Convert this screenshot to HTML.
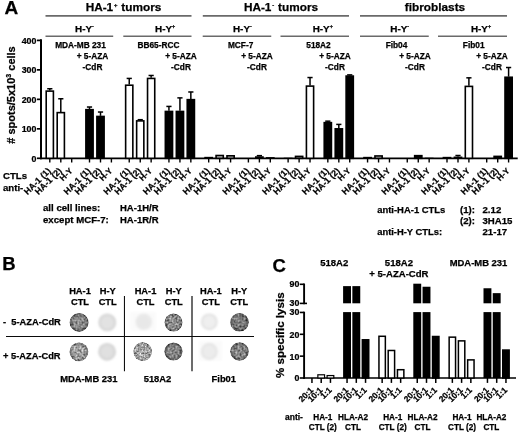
<!DOCTYPE html>
<html lang="en"><head><meta charset="utf-8"><title>Figure</title>
<style>html,body{margin:0;padding:0;background:#fff}svg{display:block}text{font-family:'Liberation Sans', sans-serif;font-weight:bold;fill:#000;stroke:#000;stroke-width:0.25px}</style>
</head><body>
<svg width="520" height="432" viewBox="0 0 520 432">
<defs>
<filter id="t1" x="-10%" y="-10%" width="120%" height="120%" color-interpolation-filters="sRGB"><feTurbulence type="fractalNoise" baseFrequency="0.5" numOctaves="2" seed="3" result="n"/><feColorMatrix in="n" type="matrix" values="1.6 0 0 0 -0.3  1.6 0 0 0 -0.3  1.6 0 0 0 -0.3  0 0 0 0 1" result="g"/><feComposite in="SourceGraphic" in2="g" operator="arithmetic" k1="0" k2="1" k3="0.45" k4="-0.225" result="m"/><feComposite in="m" in2="SourceGraphic" operator="in" result="c"/><feGaussianBlur in="c" stdDeviation="0.45"/></filter>
<filter id="t2" x="-10%" y="-10%" width="120%" height="120%" color-interpolation-filters="sRGB"><feTurbulence type="fractalNoise" baseFrequency="0.5" numOctaves="2" seed="7" result="n"/><feColorMatrix in="n" type="matrix" values="1.6 0 0 0 -0.3  1.6 0 0 0 -0.3  1.6 0 0 0 -0.3  0 0 0 0 1" result="g"/><feComposite in="SourceGraphic" in2="g" operator="arithmetic" k1="0" k2="1" k3="0.6" k4="-0.3" result="m"/><feComposite in="m" in2="SourceGraphic" operator="in" result="c"/><feGaussianBlur in="c" stdDeviation="0.45"/></filter>
<filter id="t3" x="-10%" y="-10%" width="120%" height="120%" color-interpolation-filters="sRGB"><feTurbulence type="fractalNoise" baseFrequency="0.55" numOctaves="2" seed="11" result="n"/><feColorMatrix in="n" type="matrix" values="1.6 0 0 0 -0.3  1.6 0 0 0 -0.3  1.6 0 0 0 -0.3  0 0 0 0 1" result="g"/><feComposite in="SourceGraphic" in2="g" operator="arithmetic" k1="0" k2="1" k3="0.62" k4="-0.31" result="m"/><feComposite in="m" in2="SourceGraphic" operator="in" result="c"/><feGaussianBlur in="c" stdDeviation="0.45"/></filter>
<filter id="t4" x="-10%" y="-10%" width="120%" height="120%" color-interpolation-filters="sRGB"><feTurbulence type="fractalNoise" baseFrequency="0.5" numOctaves="2" seed="17" result="n"/><feColorMatrix in="n" type="matrix" values="1.6 0 0 0 -0.3  1.6 0 0 0 -0.3  1.6 0 0 0 -0.3  0 0 0 0 1" result="g"/><feComposite in="SourceGraphic" in2="g" operator="arithmetic" k1="0" k2="1" k3="0.5" k4="-0.25" result="m"/><feComposite in="m" in2="SourceGraphic" operator="in" result="c"/><feGaussianBlur in="c" stdDeviation="0.45"/></filter>
<filter id="bl" x="-20%" y="-20%" width="140%" height="140%"><feGaussianBlur stdDeviation="0.9"/></filter>
<filter id="bl2" x="-20%" y="-20%" width="140%" height="140%"><feGaussianBlur stdDeviation="1.0"/></filter>
</defs>
<rect width="520" height="432" fill="#fff"/>
<text x="4.5" y="14.3" font-size="19" text-anchor="start" >A</text>
<line x1="45.5" y1="15.9" x2="191.5" y2="15.9" stroke="#6a6a6a" stroke-width="1.6"/>
<line x1="202.8" y1="15.9" x2="349" y2="15.9" stroke="#6a6a6a" stroke-width="1.6"/>
<line x1="360" y1="15.9" x2="507" y2="15.9" stroke="#6a6a6a" stroke-width="1.6"/>
<text x="123.5" y="11" font-size="11.8" text-anchor="middle" >HA-1<tspan font-size="5.8" dy="-4.2" dx="0.9">+</tspan><tspan dy="4.2" dx="0.6"> tumors</tspan></text>
<text x="281" y="11" font-size="11.8" text-anchor="middle" >HA-1<tspan font-size="5.8" dy="-4.2" dx="0.9">-</tspan><tspan dy="4.2" dx="0.6"> tumors</tspan></text>
<text x="435" y="11" font-size="11.8" text-anchor="middle" >fibroblasts</text>
<line x1="45.5" y1="36.3" x2="113.2" y2="36.3" stroke="#6a6a6a" stroke-width="1.6"/>
<line x1="123.3" y1="36.3" x2="191.5" y2="36.3" stroke="#6a6a6a" stroke-width="1.6"/>
<line x1="202.7" y1="36.3" x2="271.25" y2="36.3" stroke="#6a6a6a" stroke-width="1.6"/>
<line x1="280.5" y1="36.3" x2="349" y2="36.3" stroke="#6a6a6a" stroke-width="1.6"/>
<line x1="360" y1="36.3" x2="428.75" y2="36.3" stroke="#6a6a6a" stroke-width="1.6"/>
<line x1="438" y1="36.3" x2="507" y2="36.3" stroke="#6a6a6a" stroke-width="1.6"/>
<text x="84.5" y="31.8" font-size="9.9" text-anchor="middle" >H-Y<tspan font-size="5.4" dy="-3.6">-</tspan></text>
<text x="165.1" y="31.8" font-size="9.9" text-anchor="middle" >H-Y<tspan font-size="5.4" dy="-3.6">+</tspan></text>
<text x="242.4" y="31.8" font-size="9.9" text-anchor="middle" >H-Y<tspan font-size="5.4" dy="-3.6">-</tspan></text>
<text x="322.8" y="31.8" font-size="9.9" text-anchor="middle" >H-Y<tspan font-size="5.4" dy="-3.6">+</tspan></text>
<text x="399.7" y="31.8" font-size="9.9" text-anchor="middle" >H-Y<tspan font-size="5.4" dy="-3.6">-</tspan></text>
<text x="481" y="31.8" font-size="9.9" text-anchor="middle" >H-Y<tspan font-size="5.4" dy="-3.6">+</tspan></text>
<text x="80.5" y="48.0" font-size="8.3" text-anchor="middle" >MDA-MB 231</text>
<text x="158.5" y="48.0" font-size="8.3" text-anchor="middle" >BB65-RCC</text>
<text x="240.6" y="48.0" font-size="8.3" text-anchor="middle" >MCF-7</text>
<text x="318.5" y="48.0" font-size="8.3" text-anchor="middle" >518A2</text>
<text x="396.5" y="48.0" font-size="8.3" text-anchor="middle" >Fib04</text>
<text x="473.7" y="48.0" font-size="8.3" text-anchor="middle" >Fib01</text>
<text x="92.5" y="59.3" font-size="8.3" text-anchor="middle" >+ 5-AZA</text>
<text x="92.5" y="69.8" font-size="8.3" text-anchor="middle" >-CdR</text>
<text x="181" y="59.3" font-size="8.3" text-anchor="middle" >+ 5-AZA</text>
<text x="181" y="69.8" font-size="8.3" text-anchor="middle" >-CdR</text>
<text x="257" y="59.3" font-size="8.3" text-anchor="middle" >+ 5-AZA</text>
<text x="257" y="69.8" font-size="8.3" text-anchor="middle" >-CdR</text>
<text x="335" y="59.3" font-size="8.3" text-anchor="middle" >+ 5-AZA</text>
<text x="335" y="69.8" font-size="8.3" text-anchor="middle" >-CdR</text>
<text x="415" y="59.3" font-size="8.3" text-anchor="middle" >+ 5-AZA</text>
<text x="415" y="69.8" font-size="8.3" text-anchor="middle" >-CdR</text>
<text x="492" y="59.3" font-size="8.3" text-anchor="middle" >+ 5-AZA</text>
<text x="492" y="69.8" font-size="8.3" text-anchor="middle" >-CdR</text>
<line x1="41.0" y1="39.35" x2="41.0" y2="159.15" stroke="#000" stroke-width="2.0"/>
<line x1="40.15" y1="158.3" x2="517.7" y2="158.3" stroke="#000" stroke-width="1.7"/>
<line x1="36.9" y1="158.3" x2="41.0" y2="158.3" stroke="#000" stroke-width="1.7"/>
<text transform="translate(36.4,161.65) scale(0.94,1)" font-size="9.4" text-anchor="end">0</text>
<line x1="36.9" y1="128.82500000000002" x2="41.0" y2="128.82500000000002" stroke="#000" stroke-width="1.7"/>
<text transform="translate(36.4,132.175) scale(0.94,1)" font-size="9.4" text-anchor="end">100</text>
<line x1="36.9" y1="99.35000000000001" x2="41.0" y2="99.35000000000001" stroke="#000" stroke-width="1.7"/>
<text transform="translate(36.4,102.7) scale(0.94,1)" font-size="9.4" text-anchor="end">200</text>
<line x1="36.9" y1="69.87500000000001" x2="41.0" y2="69.87500000000001" stroke="#000" stroke-width="1.7"/>
<text transform="translate(36.4,73.22500000000001) scale(0.94,1)" font-size="9.4" text-anchor="end">300</text>
<line x1="36.9" y1="40.400000000000006" x2="41.0" y2="40.400000000000006" stroke="#000" stroke-width="1.7"/>
<text transform="translate(36.4,43.75000000000001) scale(0.94,1)" font-size="9.4" text-anchor="end">400</text>
<text transform="translate(14.9,95) rotate(-90)" font-size="11.0" text-anchor="middle"># spots/5x10<tspan font-size="7" dy="-4">3</tspan><tspan dy="4"> cells</tspan></text>
<line x1="49.8" y1="158.3" x2="49.8" y2="162.5" stroke="#000" stroke-width="1.4"/>
<line x1="49.8" y1="90.50750000000001" x2="49.8" y2="88.739" stroke="#000" stroke-width="1.5"/>
<line x1="47.199999999999996" y1="88.739" x2="52.4" y2="88.739" stroke="#000" stroke-width="1.5"/>
<rect x="46.20" y="91.11" width="7.20" height="67.19" fill="#fff" stroke="#000" stroke-width="1.6"/>
<text transform="translate(51.30,171.40) rotate(-45)" font-size="8.8" text-anchor="end">HA-1 (1)</text>
<line x1="60.8" y1="158.3" x2="60.8" y2="162.5" stroke="#000" stroke-width="1.4"/>
<line x1="60.8" y1="112.02425000000001" x2="60.8" y2="98.76050000000001" stroke="#000" stroke-width="1.5"/>
<line x1="58.199999999999996" y1="98.76050000000001" x2="63.4" y2="98.76050000000001" stroke="#000" stroke-width="1.5"/>
<rect x="57.20" y="112.62" width="7.20" height="45.68" fill="#fff" stroke="#000" stroke-width="1.6"/>
<text transform="translate(62.30,171.40) rotate(-45)" font-size="8.8" text-anchor="end">HA-1 (2)</text>
<line x1="71.69999999999999" y1="158.3" x2="71.69999999999999" y2="162.5" stroke="#000" stroke-width="1.4"/>
<text transform="translate(73.20,171.40) rotate(-45)" font-size="8.3" text-anchor="end">H-Y</text>
<line x1="89.5" y1="158.3" x2="89.5" y2="162.5" stroke="#000" stroke-width="1.4"/>
<line x1="89.5" y1="109.07675" x2="89.5" y2="107.01350000000001" stroke="#000" stroke-width="1.5"/>
<line x1="86.9" y1="107.01350000000001" x2="92.1" y2="107.01350000000001" stroke="#000" stroke-width="1.5"/>
<rect x="85.90" y="109.68" width="7.20" height="48.62" fill="#000" stroke="#000" stroke-width="1.6"/>
<text transform="translate(91.00,171.40) rotate(-45)" font-size="8.8" text-anchor="end">HA-1 (1)</text>
<line x1="100.5" y1="158.3" x2="100.5" y2="162.5" stroke="#000" stroke-width="1.4"/>
<line x1="100.5" y1="115.85600000000001" x2="100.5" y2="112.02425000000001" stroke="#000" stroke-width="1.5"/>
<line x1="97.9" y1="112.02425000000001" x2="103.1" y2="112.02425000000001" stroke="#000" stroke-width="1.5"/>
<rect x="96.90" y="116.46" width="7.20" height="41.84" fill="#000" stroke="#000" stroke-width="1.6"/>
<text transform="translate(102.00,171.40) rotate(-45)" font-size="8.8" text-anchor="end">HA-1 (2)</text>
<line x1="111.4" y1="158.3" x2="111.4" y2="162.5" stroke="#000" stroke-width="1.4"/>
<text transform="translate(112.90,171.40) rotate(-45)" font-size="8.3" text-anchor="end">H-Y</text>
<line x1="129.24" y1="158.3" x2="129.24" y2="162.5" stroke="#000" stroke-width="1.4"/>
<line x1="129.24" y1="84.61250000000001" x2="129.24" y2="78.42275000000001" stroke="#000" stroke-width="1.5"/>
<line x1="126.64000000000001" y1="78.42275000000001" x2="131.84" y2="78.42275000000001" stroke="#000" stroke-width="1.5"/>
<rect x="125.64" y="85.21" width="7.20" height="73.09" fill="#fff" stroke="#000" stroke-width="1.6"/>
<text transform="translate(130.74,171.40) rotate(-45)" font-size="8.8" text-anchor="end">HA-1 (1)</text>
<line x1="140.24" y1="158.3" x2="140.24" y2="162.5" stroke="#000" stroke-width="1.4"/>
<line x1="140.24" y1="120.27725000000001" x2="140.24" y2="119.68775000000001" stroke="#000" stroke-width="1.5"/>
<line x1="137.64000000000001" y1="119.68775000000001" x2="142.84" y2="119.68775000000001" stroke="#000" stroke-width="1.5"/>
<rect x="136.64" y="120.88" width="7.20" height="37.42" fill="#fff" stroke="#000" stroke-width="1.6"/>
<text transform="translate(141.74,171.40) rotate(-45)" font-size="8.8" text-anchor="end">HA-1 (2)</text>
<line x1="151.14000000000001" y1="158.3" x2="151.14000000000001" y2="162.5" stroke="#000" stroke-width="1.4"/>
<line x1="151.14000000000001" y1="77.83325" x2="151.14000000000001" y2="75.47525" stroke="#000" stroke-width="1.5"/>
<line x1="148.54000000000002" y1="75.47525" x2="153.74" y2="75.47525" stroke="#000" stroke-width="1.5"/>
<rect x="147.54" y="78.43" width="7.20" height="79.87" fill="#fff" stroke="#000" stroke-width="1.6"/>
<text transform="translate(152.64,171.40) rotate(-45)" font-size="8.3" text-anchor="end">H-Y</text>
<line x1="168.94" y1="158.3" x2="168.94" y2="162.5" stroke="#000" stroke-width="1.4"/>
<line x1="168.94" y1="110.84525000000001" x2="168.94" y2="106.424" stroke="#000" stroke-width="1.5"/>
<line x1="166.34" y1="106.424" x2="171.54" y2="106.424" stroke="#000" stroke-width="1.5"/>
<rect x="165.34" y="111.45" width="7.20" height="46.85" fill="#000" stroke="#000" stroke-width="1.6"/>
<text transform="translate(170.44,171.40) rotate(-45)" font-size="8.8" text-anchor="end">HA-1 (1)</text>
<line x1="179.94" y1="158.3" x2="179.94" y2="162.5" stroke="#000" stroke-width="1.4"/>
<line x1="179.94" y1="110.84525000000001" x2="179.94" y2="97.87625" stroke="#000" stroke-width="1.5"/>
<line x1="177.34" y1="97.87625" x2="182.54" y2="97.87625" stroke="#000" stroke-width="1.5"/>
<rect x="176.34" y="111.45" width="7.20" height="46.85" fill="#000" stroke="#000" stroke-width="1.6"/>
<text transform="translate(181.44,171.40) rotate(-45)" font-size="8.8" text-anchor="end">HA-1 (2)</text>
<line x1="190.84" y1="158.3" x2="190.84" y2="162.5" stroke="#000" stroke-width="1.4"/>
<line x1="190.84" y1="99.05525" x2="190.84" y2="91.98125" stroke="#000" stroke-width="1.5"/>
<line x1="188.24" y1="91.98125" x2="193.44" y2="91.98125" stroke="#000" stroke-width="1.5"/>
<rect x="187.24" y="99.66" width="7.20" height="58.64" fill="#000" stroke="#000" stroke-width="1.6"/>
<text transform="translate(192.34,171.40) rotate(-45)" font-size="8.3" text-anchor="end">H-Y</text>
<line x1="208.68" y1="158.3" x2="208.68" y2="162.5" stroke="#000" stroke-width="1.4"/>
<rect x="204.28" y="156.83" width="8.80" height="1.47" fill="#000"/>
<text transform="translate(210.18,171.40) rotate(-45)" font-size="8.8" text-anchor="end">HA-1 (1)</text>
<line x1="219.68" y1="158.3" x2="219.68" y2="162.5" stroke="#000" stroke-width="1.4"/>
<rect x="216.08" y="155.51" width="7.20" height="2.79" fill="#ccc" stroke="#000" stroke-width="1.6"/>
<text transform="translate(221.18,171.40) rotate(-45)" font-size="8.8" text-anchor="end">HA-1 (2)</text>
<line x1="230.58" y1="158.3" x2="230.58" y2="162.5" stroke="#000" stroke-width="1.4"/>
<rect x="226.98" y="155.81" width="7.20" height="2.49" fill="#ccc" stroke="#000" stroke-width="1.6"/>
<text transform="translate(232.08,171.40) rotate(-45)" font-size="8.3" text-anchor="end">H-Y</text>
<line x1="248.38" y1="158.3" x2="248.38" y2="162.5" stroke="#000" stroke-width="1.4"/>
<rect x="243.98" y="158.01" width="8.80" height="0.29" fill="#000"/>
<text transform="translate(249.88,171.40) rotate(-45)" font-size="8.8" text-anchor="end">HA-1 (1)</text>
<line x1="259.38" y1="158.3" x2="259.38" y2="162.5" stroke="#000" stroke-width="1.4"/>
<line x1="259.38" y1="156.23675" x2="259.38" y2="155.64725" stroke="#000" stroke-width="1.5"/>
<line x1="256.78" y1="155.64725" x2="261.98" y2="155.64725" stroke="#000" stroke-width="1.5"/>
<rect x="254.98" y="156.24" width="8.80" height="2.06" fill="#000"/>
<text transform="translate(260.88,171.40) rotate(-45)" font-size="8.8" text-anchor="end">HA-1 (2)</text>
<line x1="270.28000000000003" y1="158.3" x2="270.28000000000003" y2="162.5" stroke="#000" stroke-width="1.4"/>
<rect x="265.88" y="157.12" width="8.80" height="1.18" fill="#000"/>
<text transform="translate(271.78,171.40) rotate(-45)" font-size="8.3" text-anchor="end">H-Y</text>
<line x1="288.12" y1="158.3" x2="288.12" y2="162.5" stroke="#000" stroke-width="1.4"/>
<rect x="283.72" y="157.71" width="8.80" height="0.59" fill="#000"/>
<text transform="translate(289.62,171.40) rotate(-45)" font-size="8.8" text-anchor="end">HA-1 (1)</text>
<line x1="299.12" y1="158.3" x2="299.12" y2="162.5" stroke="#000" stroke-width="1.4"/>
<rect x="295.52" y="156.39" width="7.20" height="1.91" fill="#ccc" stroke="#000" stroke-width="1.6"/>
<text transform="translate(300.62,171.40) rotate(-45)" font-size="8.8" text-anchor="end">HA-1 (2)</text>
<line x1="310.02" y1="158.3" x2="310.02" y2="162.5" stroke="#000" stroke-width="1.4"/>
<line x1="310.02" y1="85.49675" x2="310.02" y2="77.5385" stroke="#000" stroke-width="1.5"/>
<line x1="307.41999999999996" y1="77.5385" x2="312.62" y2="77.5385" stroke="#000" stroke-width="1.5"/>
<rect x="306.42" y="86.10" width="7.20" height="72.20" fill="#fff" stroke="#000" stroke-width="1.6"/>
<text transform="translate(311.52,171.40) rotate(-45)" font-size="8.3" text-anchor="end">H-Y</text>
<line x1="327.82" y1="158.3" x2="327.82" y2="162.5" stroke="#000" stroke-width="1.4"/>
<line x1="327.82" y1="122.04575000000001" x2="327.82" y2="121.16150000000002" stroke="#000" stroke-width="1.5"/>
<line x1="325.21999999999997" y1="121.16150000000002" x2="330.42" y2="121.16150000000002" stroke="#000" stroke-width="1.5"/>
<rect x="324.22" y="122.65" width="7.20" height="35.65" fill="#000" stroke="#000" stroke-width="1.6"/>
<text transform="translate(329.32,171.40) rotate(-45)" font-size="8.8" text-anchor="end">HA-1 (1)</text>
<line x1="338.82" y1="158.3" x2="338.82" y2="162.5" stroke="#000" stroke-width="1.4"/>
<line x1="338.82" y1="128.2355" x2="338.82" y2="124.40375" stroke="#000" stroke-width="1.5"/>
<line x1="336.21999999999997" y1="124.40375" x2="341.42" y2="124.40375" stroke="#000" stroke-width="1.5"/>
<rect x="335.22" y="128.84" width="7.20" height="29.46" fill="#000" stroke="#000" stroke-width="1.6"/>
<text transform="translate(340.32,171.40) rotate(-45)" font-size="8.8" text-anchor="end">HA-1 (2)</text>
<line x1="349.72" y1="158.3" x2="349.72" y2="162.5" stroke="#000" stroke-width="1.4"/>
<line x1="349.72" y1="75.47525" x2="349.72" y2="74.88575" stroke="#000" stroke-width="1.5"/>
<line x1="347.12" y1="74.88575" x2="352.32000000000005" y2="74.88575" stroke="#000" stroke-width="1.5"/>
<rect x="346.12" y="76.08" width="7.20" height="82.22" fill="#000" stroke="#000" stroke-width="1.6"/>
<text transform="translate(351.22,171.40) rotate(-45)" font-size="8.3" text-anchor="end">H-Y</text>
<line x1="367.56" y1="158.3" x2="367.56" y2="162.5" stroke="#000" stroke-width="1.4"/>
<rect x="363.16" y="156.83" width="8.80" height="1.47" fill="#000"/>
<text transform="translate(369.06,171.40) rotate(-45)" font-size="8.8" text-anchor="end">HA-1 (1)</text>
<line x1="378.56" y1="158.3" x2="378.56" y2="162.5" stroke="#000" stroke-width="1.4"/>
<rect x="374.96" y="155.95" width="7.20" height="2.35" fill="#ccc" stroke="#000" stroke-width="1.6"/>
<text transform="translate(380.06,171.40) rotate(-45)" font-size="8.8" text-anchor="end">HA-1 (2)</text>
<line x1="389.46" y1="158.3" x2="389.46" y2="162.5" stroke="#000" stroke-width="1.4"/>
<text transform="translate(390.96,171.40) rotate(-45)" font-size="8.3" text-anchor="end">H-Y</text>
<line x1="407.26" y1="158.3" x2="407.26" y2="162.5" stroke="#000" stroke-width="1.4"/>
<rect x="402.86" y="158.01" width="8.80" height="0.29" fill="#000"/>
<text transform="translate(408.76,171.40) rotate(-45)" font-size="8.8" text-anchor="end">HA-1 (1)</text>
<line x1="418.26" y1="158.3" x2="418.26" y2="162.5" stroke="#000" stroke-width="1.4"/>
<rect x="414.66" y="155.66" width="7.20" height="2.64" fill="#000" stroke="#000" stroke-width="1.6"/>
<text transform="translate(419.76,171.40) rotate(-45)" font-size="8.8" text-anchor="end">HA-1 (2)</text>
<line x1="429.16" y1="158.3" x2="429.16" y2="162.5" stroke="#000" stroke-width="1.4"/>
<rect x="424.76" y="157.71" width="8.80" height="0.59" fill="#000"/>
<text transform="translate(430.66,171.40) rotate(-45)" font-size="8.3" text-anchor="end">H-Y</text>
<line x1="447.0" y1="158.3" x2="447.0" y2="162.5" stroke="#000" stroke-width="1.4"/>
<rect x="442.60" y="156.83" width="8.80" height="1.47" fill="#000"/>
<text transform="translate(448.50,171.40) rotate(-45)" font-size="8.8" text-anchor="end">HA-1 (1)</text>
<line x1="458.0" y1="158.3" x2="458.0" y2="162.5" stroke="#000" stroke-width="1.4"/>
<line x1="458.0" y1="156.53150000000002" x2="458.0" y2="155.49987500000003" stroke="#000" stroke-width="1.5"/>
<line x1="455.4" y1="155.49987500000003" x2="460.6" y2="155.49987500000003" stroke="#000" stroke-width="1.5"/>
<rect x="453.60" y="156.53" width="8.80" height="1.77" fill="#000"/>
<text transform="translate(459.50,171.40) rotate(-45)" font-size="8.8" text-anchor="end">HA-1 (2)</text>
<line x1="468.9" y1="158.3" x2="468.9" y2="162.5" stroke="#000" stroke-width="1.4"/>
<line x1="468.9" y1="85.79150000000001" x2="468.9" y2="77.83325" stroke="#000" stroke-width="1.5"/>
<line x1="466.29999999999995" y1="77.83325" x2="471.5" y2="77.83325" stroke="#000" stroke-width="1.5"/>
<rect x="465.30" y="86.39" width="7.20" height="71.91" fill="#fff" stroke="#000" stroke-width="1.6"/>
<text transform="translate(470.40,171.40) rotate(-45)" font-size="8.3" text-anchor="end">H-Y</text>
<line x1="486.7" y1="158.3" x2="486.7" y2="162.5" stroke="#000" stroke-width="1.4"/>
<rect x="482.30" y="158.01" width="8.80" height="0.29" fill="#000"/>
<text transform="translate(488.20,171.40) rotate(-45)" font-size="8.8" text-anchor="end">HA-1 (1)</text>
<line x1="497.7" y1="158.3" x2="497.7" y2="162.5" stroke="#000" stroke-width="1.4"/>
<rect x="494.10" y="156.39" width="7.20" height="1.91" fill="#000" stroke="#000" stroke-width="1.6"/>
<text transform="translate(499.20,171.40) rotate(-45)" font-size="8.8" text-anchor="end">HA-1 (2)</text>
<line x1="508.6" y1="158.3" x2="508.6" y2="162.5" stroke="#000" stroke-width="1.4"/>
<line x1="508.6" y1="76.65425" x2="508.6" y2="67.51700000000001" stroke="#000" stroke-width="1.5"/>
<line x1="506.0" y1="67.51700000000001" x2="511.20000000000005" y2="67.51700000000001" stroke="#000" stroke-width="1.5"/>
<rect x="505.00" y="77.25" width="7.20" height="81.05" fill="#000" stroke="#000" stroke-width="1.6"/>
<text transform="translate(510.10,171.40) rotate(-45)" font-size="8.3" text-anchor="end">H-Y</text>
<text x="3" y="178.8" font-size="9.65" text-anchor="start" >CTLs</text>
<text x="3" y="191.3" font-size="9.65" text-anchor="start" >anti-</text>
<text x="43" y="211.3" font-size="9.65" text-anchor="start" >all cell lines:</text>
<text x="43" y="223.3" font-size="9.65" text-anchor="start" >except MCF-7:</text>
<text x="120" y="211.3" font-size="9.5" text-anchor="start" >HA-1H/R</text>
<text x="120" y="223.3" font-size="9.5" text-anchor="start" >HA-1R/R</text>
<text x="377.2" y="212.5" font-size="9.45" text-anchor="start" >anti-HA-1 CTLs</text>
<text x="377.2" y="234.7" font-size="9.4" text-anchor="start" >anti-H-Y CTLs:</text>
<text x="460" y="212.5" font-size="9.65" text-anchor="start" >(1):</text>
<text x="460" y="223.5" font-size="9.65" text-anchor="start" >(2):</text>
<text x="482.5" y="212.5" font-size="9.65" text-anchor="start" >2.12</text>
<text x="482.5" y="223.5" font-size="9.65" text-anchor="start" >3HA15</text>
<text x="482.5" y="234.7" font-size="9.65" text-anchor="start" >21-17</text>
<text x="2.2" y="270.3" font-size="18.5" text-anchor="start" >B</text>
<line x1="6" y1="336.45" x2="254" y2="336.45" stroke="#0a0a0a" stroke-width="1.05"/>
<line x1="124.45" y1="296" x2="124.45" y2="371.3" stroke="#0a0a0a" stroke-width="1.05"/>
<line x1="192" y1="296" x2="192" y2="371.3" stroke="#0a0a0a" stroke-width="1.2"/>
<text x="80" y="294" font-size="9.3" text-anchor="middle" >HA-1</text>
<text x="80" y="305.1" font-size="9.3" text-anchor="middle" >CTL</text>
<text x="107.7" y="294" font-size="9.3" text-anchor="middle" >H-Y</text>
<text x="107.7" y="305.1" font-size="9.3" text-anchor="middle" >CTL</text>
<text x="145.5" y="294" font-size="9.3" text-anchor="middle" >HA-1</text>
<text x="145.5" y="305.1" font-size="9.3" text-anchor="middle" >CTL</text>
<text x="173.75" y="294" font-size="9.3" text-anchor="middle" >H-Y</text>
<text x="173.75" y="305.1" font-size="9.3" text-anchor="middle" >CTL</text>
<text x="210.9" y="294" font-size="9.3" text-anchor="middle" >HA-1</text>
<text x="210.9" y="305.1" font-size="9.3" text-anchor="middle" >CTL</text>
<text x="239.2" y="294" font-size="9.3" text-anchor="middle" >H-Y</text>
<text x="239.2" y="305.1" font-size="9.3" text-anchor="middle" >CTL</text>
<text x="3" y="325.3" font-size="9.3" text-anchor="start" >-&#160;&#160;5-AZA-CdR</text>
<text x="3" y="359.2" font-size="9.3" text-anchor="start" >+ 5-AZA-CdR</text>
<text x="88.8" y="381.7" font-size="9.4" text-anchor="middle" >MDA-MB 231</text>
<text x="157.5" y="381.7" font-size="9.4" text-anchor="middle" >518A2</text>
<text x="223.8" y="381.7" font-size="9.4" text-anchor="middle" >Fib01</text>
<rect x="130.5" y="312" width="25.5" height="18.5" fill="#fafafa" filter="url(#bl)"/>
<rect x="199" y="341" width="23" height="19.5" fill="#fafafa" filter="url(#bl)"/>
<radialGradient id="w0"><stop offset="0" stop-color="#8c8c8c"/><stop offset="0.6" stop-color="#8c8c8c"/><stop offset="1" stop-color="#505050"/></radialGradient>
<circle cx="79.1" cy="322.4" r="9.5" fill="url(#w0)" filter="url(#t1)"/>
<radialGradient id="w1"><stop offset="0" stop-color="#e2e2e2"/><stop offset="0.6" stop-color="#e2e2e2"/><stop offset="1" stop-color="#d3d3d3"/></radialGradient>
<circle cx="107.3" cy="322.4" r="8.9" fill="url(#w1)" filter="url(#bl2)"/>
<radialGradient id="w2"><stop offset="0" stop-color="#e8e8e8"/><stop offset="0.6" stop-color="#e8e8e8"/><stop offset="1" stop-color="#ebebeb"/></radialGradient>
<circle cx="143.8" cy="321.8" r="8.3" fill="url(#w2)" filter="url(#bl2)"/>
<radialGradient id="w3"><stop offset="0" stop-color="#8e8e8e"/><stop offset="0.6" stop-color="#8e8e8e"/><stop offset="1" stop-color="#5c5c5c"/></radialGradient>
<circle cx="173.5" cy="322.6" r="9.0" fill="url(#w3)" filter="url(#t2)"/>
<radialGradient id="w4"><stop offset="0" stop-color="#efefef"/><stop offset="0.6" stop-color="#efefef"/><stop offset="1" stop-color="#dedede"/></radialGradient>
<circle cx="209.3" cy="321.8" r="8.4" fill="url(#w4)" filter="url(#bl2)"/>
<radialGradient id="w5"><stop offset="0" stop-color="#7c7c7c"/><stop offset="0.6" stop-color="#7c7c7c"/><stop offset="1" stop-color="#505050"/></radialGradient>
<circle cx="239.5" cy="322.3" r="9.3" fill="url(#w5)" filter="url(#t4)"/>
<radialGradient id="w6"><stop offset="0" stop-color="#a0a0a0"/><stop offset="0.6" stop-color="#a0a0a0"/><stop offset="1" stop-color="#707070"/></radialGradient>
<circle cx="78.9" cy="351.8" r="9.4" fill="url(#w6)" filter="url(#t2)"/>
<radialGradient id="w7"><stop offset="0" stop-color="#e0e0e0"/><stop offset="0.6" stop-color="#e0e0e0"/><stop offset="1" stop-color="#d0d0d0"/></radialGradient>
<circle cx="107.1" cy="351.8" r="8.9" fill="url(#w7)" filter="url(#bl2)"/>
<radialGradient id="w8"><stop offset="0" stop-color="#a6a6a6"/><stop offset="0.6" stop-color="#a6a6a6"/><stop offset="1" stop-color="#8a8a8a"/></radialGradient>
<circle cx="142.7" cy="351.6" r="9.3" fill="url(#w8)" filter="url(#t3)"/>
<radialGradient id="w9"><stop offset="0" stop-color="#858585"/><stop offset="0.6" stop-color="#858585"/><stop offset="1" stop-color="#555555"/></radialGradient>
<circle cx="173.5" cy="351.5" r="9.1" fill="url(#w9)" filter="url(#t1)"/>
<radialGradient id="w10"><stop offset="0" stop-color="#ececec"/><stop offset="0.6" stop-color="#ececec"/><stop offset="1" stop-color="#e2e2e2"/></radialGradient>
<circle cx="209.3" cy="351.5" r="8.4" fill="url(#w10)" filter="url(#bl2)"/>
<radialGradient id="w11"><stop offset="0" stop-color="#848484"/><stop offset="0.6" stop-color="#848484"/><stop offset="1" stop-color="#585858"/></radialGradient>
<circle cx="239.5" cy="351.5" r="9.3" fill="url(#w11)" filter="url(#t4)"/>
<text x="272.6" y="271.5" font-size="18.5" text-anchor="start" >C</text>
<text x="334.2" y="266.2" font-size="9.55" text-anchor="middle" >518A2</text>
<text x="398.9" y="266.2" font-size="9.55" text-anchor="middle" >518A2</text>
<text x="398.9" y="277.2" font-size="9.55" text-anchor="middle" >+ 5-AZA-CdR</text>
<text x="478.5" y="266.2" font-size="9.45" text-anchor="middle" >MDA-MB 231</text>
<line x1="304.1" y1="283.5" x2="304.1" y2="304.2" stroke="#000" stroke-width="1.9"/>
<line x1="304.1" y1="311.7" x2="304.1" y2="378.85" stroke="#000" stroke-width="1.9"/>
<line x1="303.20000000000005" y1="378.0" x2="516" y2="378.0" stroke="#000" stroke-width="1.7"/>
<line x1="299.8" y1="284.3" x2="304.1" y2="284.3" stroke="#000" stroke-width="1.6"/>
<line x1="299.8" y1="303.4" x2="307.0" y2="303.4" stroke="#000" stroke-width="1.6"/>
<text transform="translate(299.3,287.3) scale(0.94,1)" font-size="9.4" text-anchor="end">90</text>
<text transform="translate(299.3,305.8) scale(0.94,1)" font-size="9.4" text-anchor="end">30</text>
<line x1="299.8" y1="378.0" x2="304.1" y2="378.0" stroke="#000" stroke-width="1.6"/>
<text transform="translate(299.3,381.4) scale(0.94,1)" font-size="9.4" text-anchor="end">0</text>
<line x1="299.8" y1="356.15" x2="304.1" y2="356.15" stroke="#000" stroke-width="1.6"/>
<text transform="translate(299.3,359.54999999999995) scale(0.94,1)" font-size="9.4" text-anchor="end">10</text>
<line x1="299.8" y1="334.3" x2="304.1" y2="334.3" stroke="#000" stroke-width="1.6"/>
<text transform="translate(299.3,337.7) scale(0.94,1)" font-size="9.4" text-anchor="end">20</text>
<line x1="299.8" y1="312.45" x2="304.1" y2="312.45" stroke="#000" stroke-width="1.6"/>
<text transform="translate(299.3,315.24999999999994) scale(0.94,1)" font-size="9.4" text-anchor="end">30</text>
<text transform="translate(283.6,335.2) rotate(-90)" font-size="11.6" text-anchor="middle">% specific lysis</text>
<line x1="311.95" y1="378.0" x2="311.95" y2="382.9" stroke="#000" stroke-width="1.5"/>
<text transform="translate(313.65,390.70) rotate(-45)" font-size="8.3" text-anchor="end">20:1</text>
<line x1="321.2" y1="378.0" x2="321.2" y2="382.9" stroke="#000" stroke-width="1.5"/>
<rect x="317.85" y="374.79" width="6.70" height="3.21" fill="#fff" stroke="#000" stroke-width="1.2"/>
<text transform="translate(322.90,390.70) rotate(-45)" font-size="8.3" text-anchor="end">10:1</text>
<line x1="330.45" y1="378.0" x2="330.45" y2="382.9" stroke="#000" stroke-width="1.5"/>
<rect x="327.10" y="375.55" width="6.70" height="2.45" fill="#fff" stroke="#000" stroke-width="1.2"/>
<text transform="translate(332.15,390.70) rotate(-45)" font-size="8.3" text-anchor="end">1:1</text>
<line x1="347.05" y1="378.0" x2="347.05" y2="382.9" stroke="#000" stroke-width="1.5"/>
<rect x="343.10" y="312.10" width="7.90" height="65.90" fill="#000"/>
<rect x="343.10" y="286.12" width="7.90" height="17.18" fill="#000"/>
<text transform="translate(348.75,390.70) rotate(-45)" font-size="8.3" text-anchor="end">20:1</text>
<line x1="356.3" y1="378.0" x2="356.3" y2="382.9" stroke="#000" stroke-width="1.5"/>
<rect x="352.35" y="312.10" width="7.90" height="65.90" fill="#000"/>
<rect x="352.35" y="286.12" width="7.90" height="17.18" fill="#000"/>
<text transform="translate(358.00,390.70) rotate(-45)" font-size="8.3" text-anchor="end">10:1</text>
<line x1="365.55" y1="378.0" x2="365.55" y2="382.9" stroke="#000" stroke-width="1.5"/>
<rect x="362.35" y="339.78" width="6.40" height="38.22" fill="#000" stroke="#000" stroke-width="1.5"/>
<text transform="translate(367.25,390.70) rotate(-45)" font-size="8.3" text-anchor="end">1:1</text>
<line x1="382.15" y1="378.0" x2="382.15" y2="382.9" stroke="#000" stroke-width="1.5"/>
<rect x="378.95" y="336.28" width="6.40" height="41.72" fill="#fff" stroke="#000" stroke-width="1.5"/>
<text transform="translate(383.85,390.70) rotate(-45)" font-size="8.3" text-anchor="end">20:1</text>
<line x1="391.4" y1="378.0" x2="391.4" y2="382.9" stroke="#000" stroke-width="1.5"/>
<rect x="388.20" y="350.48" width="6.40" height="27.52" fill="#fff" stroke="#000" stroke-width="1.5"/>
<text transform="translate(393.10,390.70) rotate(-45)" font-size="8.3" text-anchor="end">10:1</text>
<line x1="400.65" y1="378.0" x2="400.65" y2="382.9" stroke="#000" stroke-width="1.5"/>
<rect x="397.45" y="369.71" width="6.40" height="8.29" fill="#fff" stroke="#000" stroke-width="1.5"/>
<text transform="translate(402.35,390.70) rotate(-45)" font-size="8.3" text-anchor="end">1:1</text>
<line x1="417.25" y1="378.0" x2="417.25" y2="382.9" stroke="#000" stroke-width="1.5"/>
<rect x="413.30" y="312.10" width="7.90" height="65.90" fill="#000"/>
<rect x="413.30" y="283.69" width="7.90" height="19.62" fill="#000"/>
<text transform="translate(418.95,390.70) rotate(-45)" font-size="8.3" text-anchor="end">20:1</text>
<line x1="426.5" y1="378.0" x2="426.5" y2="382.9" stroke="#000" stroke-width="1.5"/>
<rect x="422.55" y="312.10" width="7.90" height="65.90" fill="#000"/>
<rect x="422.55" y="286.74" width="7.90" height="16.56" fill="#000"/>
<text transform="translate(428.20,390.70) rotate(-45)" font-size="8.3" text-anchor="end">10:1</text>
<line x1="435.75" y1="378.0" x2="435.75" y2="382.9" stroke="#000" stroke-width="1.5"/>
<rect x="432.55" y="336.50" width="6.40" height="41.50" fill="#000" stroke="#000" stroke-width="1.5"/>
<text transform="translate(437.45,390.70) rotate(-45)" font-size="8.3" text-anchor="end">1:1</text>
<line x1="452.35" y1="378.0" x2="452.35" y2="382.9" stroke="#000" stroke-width="1.5"/>
<rect x="449.15" y="337.15" width="6.40" height="40.85" fill="#fff" stroke="#000" stroke-width="1.5"/>
<text transform="translate(454.05,390.70) rotate(-45)" font-size="8.3" text-anchor="end">20:1</text>
<line x1="461.6" y1="378.0" x2="461.6" y2="382.9" stroke="#000" stroke-width="1.5"/>
<rect x="458.40" y="340.87" width="6.40" height="37.13" fill="#fff" stroke="#000" stroke-width="1.5"/>
<text transform="translate(463.30,390.70) rotate(-45)" font-size="8.3" text-anchor="end">10:1</text>
<line x1="470.85" y1="378.0" x2="470.85" y2="382.9" stroke="#000" stroke-width="1.5"/>
<rect x="467.65" y="359.88" width="6.40" height="18.12" fill="#fff" stroke="#000" stroke-width="1.5"/>
<text transform="translate(472.55,390.70) rotate(-45)" font-size="8.3" text-anchor="end">1:1</text>
<line x1="487.45" y1="378.0" x2="487.45" y2="382.9" stroke="#000" stroke-width="1.5"/>
<rect x="483.50" y="312.10" width="7.90" height="65.90" fill="#000"/>
<rect x="483.50" y="288.26" width="7.90" height="15.04" fill="#000"/>
<text transform="translate(489.15,390.70) rotate(-45)" font-size="8.3" text-anchor="end">20:1</text>
<line x1="496.7" y1="378.0" x2="496.7" y2="382.9" stroke="#000" stroke-width="1.5"/>
<rect x="492.75" y="312.10" width="7.90" height="65.90" fill="#000"/>
<rect x="492.75" y="293.14" width="7.90" height="10.16" fill="#000"/>
<text transform="translate(498.40,390.70) rotate(-45)" font-size="8.3" text-anchor="end">10:1</text>
<line x1="505.95" y1="378.0" x2="505.95" y2="382.9" stroke="#000" stroke-width="1.5"/>
<rect x="502.75" y="350.05" width="6.40" height="27.95" fill="#000" stroke="#000" stroke-width="1.5"/>
<text transform="translate(507.65,390.70) rotate(-45)" font-size="8.3" text-anchor="end">1:1</text>
<text x="285" y="419.6" font-size="8.5" text-anchor="start" >anti-</text>
<text x="322.8" y="419.6" font-size="8.2" text-anchor="middle" >HA-1</text>
<text x="322.8" y="430.2" font-size="8.2" text-anchor="middle" >CTL (2)</text>
<text x="353.0" y="419.6" font-size="8.2" text-anchor="middle" >HLA-A2</text>
<text x="353.0" y="430.2" font-size="8.2" text-anchor="middle" >CTL</text>
<text x="392.7" y="419.6" font-size="8.2" text-anchor="middle" >HA-1</text>
<text x="392.7" y="430.2" font-size="8.2" text-anchor="middle" >CTL (2)</text>
<text x="422.5" y="419.6" font-size="8.2" text-anchor="middle" >HLA-A2</text>
<text x="422.5" y="430.2" font-size="8.2" text-anchor="middle" >CTL</text>
<text x="462.0" y="419.6" font-size="8.2" text-anchor="middle" >HA-1</text>
<text x="462.0" y="430.2" font-size="8.2" text-anchor="middle" >CTL (2)</text>
<text x="491.4" y="419.6" font-size="8.2" text-anchor="middle" >HLA-A2</text>
<text x="491.4" y="430.2" font-size="8.2" text-anchor="middle" >CTL</text>
</svg>
</body></html>
